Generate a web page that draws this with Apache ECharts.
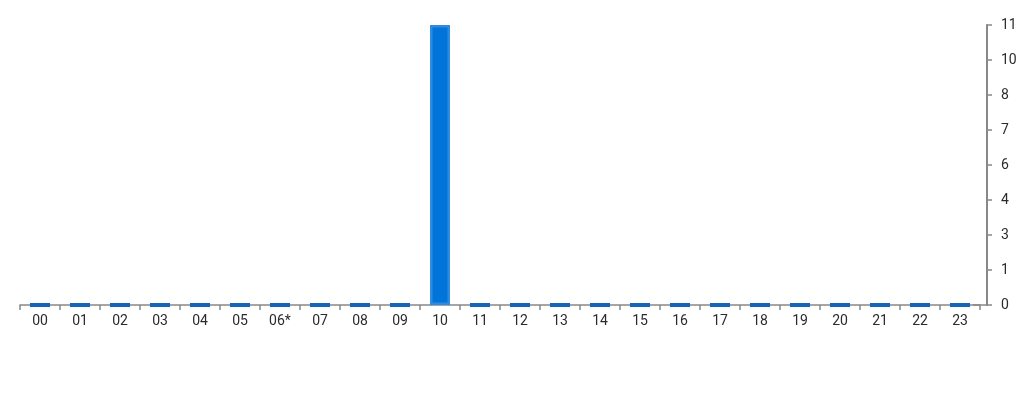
<!DOCTYPE html>
<html><head><meta charset="utf-8">
<script src="https://cdn.jsdelivr.net/npm/echarts@6/dist/echarts.min.js"></script>
<style>html,body{margin:0;padding:0;background:#fff}#c{width:1024px;height:400px}</style>
</head><body><div id="c"></div>
<script>
const hours = ['00','01','02','03','04','05','06*','07','08','09','10','11','12','13','14','15','16','17','18','19','20','21','22','23'];
const counts = [0,0,0,0,0,0,0,0,0,0,11,0,0,0,0,0,0,0,0,0,0,0,0,0];
const yMax = 11;
const ySplits = 8;

const chart = echarts.init(document.getElementById('c'));
chart.setOption({
  animation: false,
  grid: { left: 20, right: 44, top: 25, bottom: 95, containLabel: false },
  xAxis: {
    type: 'category',
    data: hours,
    axisLine: { lineStyle: { color: '#888', width: 1.5 }, symbol: ['none', 'rect'], symbolSize: [1.5, 14] },
    axisTick: { show: true, length: 5, lineStyle: { color: '#888', width: 1.5 } },
    axisLabel: { color: '#2b2b2b', fontSize: 14, fontFamily: 'Roboto', margin: 9 }
  },
  yAxis: {
    type: 'value',
    position: 'right',
    offset: 7,
    min: 0, max: yMax, interval: yMax / ySplits,
    splitLine: { show: false },
    axisLine: { show: true, lineStyle: { color: '#888', width: 2 } },
    axisTick: { show: true, inside: false, length: 5, lineStyle: { color: '#888', width: 1.5 } },
    axisLabel: { color: '#2b2b2b', fontSize: 14, fontFamily: 'Roboto', margin: 14,
      formatter: v => String(Math.round(v)) }
  },
  series: [{
    type: 'bar',
    barWidth: 20,
    data: counts.map(v => v === 0
      ? { value: v, itemStyle: { color: '#1565b8', borderColor: '#1565b8', borderWidth: 4 } }
      : { value: v }),
    itemStyle: { color: '#0074d9', borderColor: '#2f8ae0', borderWidth: 2.5 }
  }]
});
</script></body></html>
